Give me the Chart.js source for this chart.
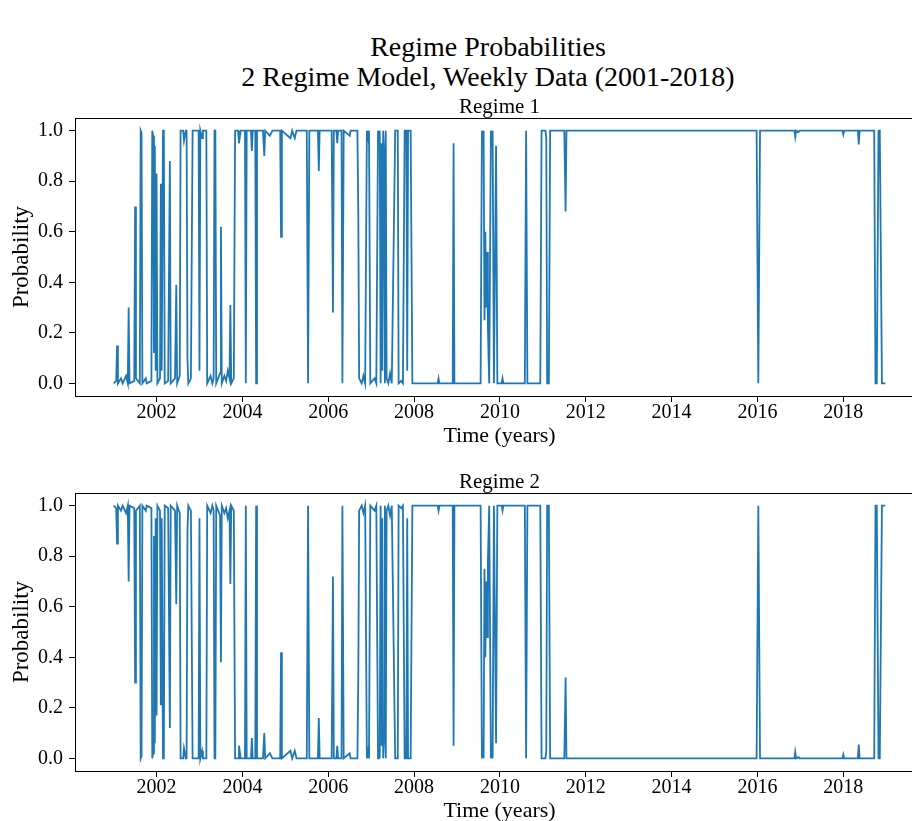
<!DOCTYPE html>
<html>
<head>
<meta charset="utf-8">
<script src="https://cdn.jsdelivr.net/npm/chart.js@4/dist/chart.umd.min.js"></script>
<style>
  html, body { margin:0; padding:0; background:#fff; width:912px; height:821px; overflow:hidden; }
  #wrap { position:relative; width:912px; height:821px; overflow:hidden; }
  .suptitle { position:absolute; left:0; top:32px; width:976px; text-align:center;
              font-family:"Liberation Serif","Times New Roman",serif; font-size:28px; line-height:30px; color:#000; }
  canvas { position:absolute; left:0; }
</style>
</head>
<body>
<div id="wrap">
  <div class="suptitle">Regime Probabilities<br>2 Regime Model, Weekly Data (2001-2018)</div>
  <canvas id="c1" width="930" height="362" style="top:90px"></canvas>
  <canvas id="c2" width="930" height="362" style="top:465px"></canvas>
</div>
<script>
// ---- data ----
const time = [
  2001.00, 2001.06, 2001.08, 2001.10, 2001.17, 2001.21, 2001.29, 2001.33, 2001.35, 2001.37,
  2001.48, 2001.50, 2001.52, 2001.61, 2001.63, 2001.65, 2001.67, 2001.75, 2001.77, 2001.88,
  2001.90, 2001.92, 2001.94, 2001.96, 2001.98, 2002.00, 2002.02, 2002.08, 2002.10, 2002.12,
  2002.15, 2002.17, 2002.19, 2002.27, 2002.31, 2002.33, 2002.43, 2002.46, 2002.48, 2002.54,
  2002.56, 2002.62, 2002.64, 2002.68, 2002.70, 2002.72, 2002.74, 2002.80, 2002.84, 2002.98,
  2003.00, 2003.02, 2003.06, 2003.08, 2003.16, 2003.18, 2003.26, 2003.30, 2003.33, 2003.35,
  2003.37, 2003.39, 2003.48, 2003.50, 2003.52, 2003.58, 2003.62, 2003.66, 2003.70, 2003.72,
  2003.74, 2003.80, 2003.83, 2003.90, 2003.92, 2003.96, 2004.06, 2004.08, 2004.10, 2004.20,
  2004.22, 2004.24, 2004.30, 2004.32, 2004.34, 2004.48, 2004.51, 2004.53, 2004.64, 2004.70,
  2004.88, 2004.90, 2004.92, 2005.12, 2005.16, 2005.22, 2005.26, 2005.50, 2005.53, 2005.56,
  2005.76, 2005.78, 2005.80, 2006.08, 2006.11, 2006.13, 2006.19, 2006.21, 2006.23, 2006.31,
  2006.33, 2006.36, 2006.50, 2006.52, 2006.68, 2006.70, 2006.72, 2006.78, 2006.82, 2006.86,
  2006.90, 2006.93, 2006.95, 2006.98, 2007.08, 2007.12, 2007.16, 2007.18, 2007.20, 2007.22,
  2007.24, 2007.26, 2007.28, 2007.30, 2007.32, 2007.34, 2007.36, 2007.40, 2007.44, 2007.48,
  2007.56, 2007.62, 2007.64, 2007.70, 2007.74, 2007.78, 2007.82, 2007.84, 2007.86, 2007.92,
  2007.96, 2008.55, 2008.57, 2008.59, 2008.90, 2008.92, 2008.94, 2009.55, 2009.58, 2009.60,
  2009.62, 2009.64, 2009.66, 2009.68, 2009.70, 2009.72, 2009.75, 2009.79, 2009.81, 2009.83,
  2009.86, 2009.91, 2009.94, 2010.04, 2010.06, 2010.08, 2010.58, 2010.61, 2010.64, 2010.94,
  2010.97, 2011.06, 2011.08, 2011.10, 2011.14, 2011.17, 2011.50, 2011.53, 2011.55, 2015.98,
  2016.02, 2016.06, 2016.86, 2016.88, 2016.90, 2016.96, 2016.98, 2017.98, 2018.00, 2018.02,
  2018.34, 2018.36, 2018.38, 2018.72, 2018.75, 2018.78, 2018.82, 2018.85, 2018.90, 2018.98
];
const regime1 = [
  0, 0.01, 0.15, 0, 0.02, 0, 0.03, 0, 0.30, 0,
  0.01, 0.70, 0.02, 0, 1, 0.99, 0, 0.02, 0, 0.01,
  1, 0.98, 0.12, 0.94, 0.05, 0.83, 0, 0.02, 0.79, 0.05,
  1, 1, 0, 0.01, 0.88, 0, 0.02, 0.39, 0, 0.03,
  1, 1, 0.96, 1, 1, 0.10, 0, 0.02, 1, 1,
  0.05, 1, 0.97, 1, 1, 0, 0.03, 0, 0.02, 1,
  1, 0, 0.04, 0.62, 0, 0.03, 0.01, 0.05, 0.02, 0.31,
  0, 0.02, 1, 1, 0.95, 1, 1, 0, 1, 1,
  0.92, 1, 1, 0, 1, 1, 0.90, 1, 0.98, 1,
  1, 0.58, 1, 0.97, 1, 0.97, 1, 1, 0, 1,
  1, 0.84, 1, 1, 0.28, 1, 1, 0.95, 1, 1,
  0, 1, 0.98, 1, 1, 0.68, 0.02, 0, 0.03, 0,
  1, 0.97, 1, 0, 0.02, 0, 1, 0.96, 1, 0,
  0.95, 0.05, 1, 0.92, 0, 1, 0.02, 0, 0.04, 0,
  1, 1, 0, 0.01, 0, 1, 1, 0.05, 1, 1,
  0, 0, 0.02, 0, 0, 0.95, 0, 0, 1, 0.97,
  1, 0.25, 0.60, 0.30, 0.52, 0.22, 0, 1, 0.97, 1,
  0, 0.94, 0, 0, 0.02, 0, 0, 1, 0, 0,
  1, 1, 0.97, 0, 0, 1, 1, 0.68, 1, 1,
  0, 1, 1, 0.975, 1, 0.995, 1, 1, 0.985, 1,
  1, 0.945, 1, 1, 0, 0, 1, 1, 0, 0
];
const regime2 = [
  1, 0.99, 0.85, 1, 0.98, 1, 0.97, 1, 0.70, 1,
  0.99, 0.30, 0.98, 1, 0, 0.01, 1, 0.98, 1, 0.99,
  0, 0.02, 0.88, 0.06, 0.95, 0.17, 1, 0.98, 0.21, 0.95,
  0, 0, 1, 0.99, 0.12, 1, 0.98, 0.61, 1, 0.97,
  0, 0, 0.04, 0, 0, 0.90, 1, 0.98, 0, 0,
  0.95, 0, 0.03, 0, 0, 1, 0.97, 1, 0.98, 0,
  0, 1, 0.96, 0.38, 1, 0.97, 0.99, 0.95, 0.98, 0.69,
  1, 0.98, 0, 0, 0.05, 0, 0, 1, 0, 0,
  0.08, 0, 0, 1, 0, 0, 0.10, 0, 0.02, 0,
  0, 0.42, 0, 0.03, 0, 0.03, 0, 0, 1, 0,
  0, 0.16, 0, 0, 0.72, 0, 0, 0.05, 0, 0,
  1, 0, 0.02, 0, 0, 0.32, 0.98, 1, 0.97, 1,
  0, 0.03, 0, 1, 0.98, 1, 0, 0.04, 0, 1,
  0.05, 0.95, 0, 0.08, 1, 0, 0.98, 1, 0.96, 1,
  0, 0, 1, 0.99, 1, 0, 0, 0.95, 0, 0,
  1, 1, 0.98, 1, 1, 0.05, 1, 1, 0, 0.03,
  0, 0.75, 0.40, 0.70, 0.48, 0.78, 1, 0, 0.03, 0,
  1, 0.06, 1, 1, 0.98, 1, 1, 0, 1, 1,
  0, 0, 0.03, 1, 1, 0, 0, 0.32, 0, 0,
  1, 0, 0, 0.025, 0, 0.005, 0, 0, 0.015, 0,
  0, 0.055, 0, 0, 1, 1, 0, 0, 1, 1
];
const xTicks = [2002, 2004, 2006, 2008, 2010, 2012, 2014, 2016, 2018];
const yTicks = [0.0, 0.2, 0.4, 0.6, 0.8, 1.0];
const titles = ['Regime 1', 'Regime 2'];

// ---- drawing ----
const FONT = "'Liberation Serif', 'Times New Roman', serif";
const boxPlugin = {
  id: 'box',
  afterDraw(chart) {
    const a = chart.chartArea, ctx = chart.ctx;
    ctx.save();
    ctx.strokeStyle = '#000';
    ctx.lineWidth = 1;
    ctx.strokeRect(Math.round(a.left) + 0.5, Math.round(a.top) + 0.5,
                   Math.round(a.right - a.left), Math.round(a.bottom - a.top));
    ctx.restore();
  }
};

function makeChart(id, title, values) {
  const pts = time.map((t, i) => ({ x: t, y: values[i] }));
  return new Chart(document.getElementById(id), {
    type: 'line',
    data: { datasets: [{ data: pts, borderColor: '#1f77b4', borderWidth: 1.8,
      pointRadius: 0, tension: 0, fill: false }] },
    options: {
      responsive: false, animation: false, devicePixelRatio: 1,
      layout: { padding: { left: 0, right: 6, top: 0, bottom: 4 } },
      plugins: {
        legend: { display: false }, tooltip: { enabled: false },
        title: { display: true, text: title, color: '#000', fullSize: false,
          font: { family: FONT, size: 21, weight: 'normal', lineHeight: 1.0 },
          padding: { top: 7, bottom: 0 } }
      },
      scales: {
        x: {
          type: 'linear', min: 2000.10, max: 2019.88,
          afterBuildTicks: s => { s.ticks = xTicks.map(v => ({ value: v })); },
          afterFit: s => { s.height = 52; },
          ticks: { color: '#000', padding: 0, autoSkip: false, maxRotation: 0,
            font: { family: FONT, size: 20, lineHeight: 1.1 },
            callback: v => String(v) },
          grid: { display: true, drawOnChartArea: false, drawTicks: true, tickLength: 6,
            color: '#000', tickColor: '#000' },
          border: { display: false },
          title: { display: true, text: 'Time (years)', color: '#000',
            font: { family: FONT, size: 22, lineHeight: 1.1 }, padding: { top: 1, bottom: 0 } }
        },
        y: {
          type: 'linear', min: -0.05, max: 1.05,
          afterBuildTicks: s => { s.ticks = yTicks.map(v => ({ value: v })); },
          afterFit: s => { s.width = 75; },
          ticks: { color: '#000', padding: 6,
            font: { family: FONT, size: 20, lineHeight: 1.1 },
            callback: v => Number(v).toFixed(1) },
          grid: { display: true, drawOnChartArea: false, drawTicks: true, tickLength: 6,
            color: '#000', tickColor: '#000' },
          border: { display: false },
          title: { display: true, text: 'Probability', color: '#000',
            font: { family: FONT, size: 23, lineHeight: 1.1 }, padding: { top: 9, bottom: 0 } }
        }
      }
    },
    plugins: [boxPlugin]
  });
}
makeChart('c1', titles[0], regime1);
makeChart('c2', titles[1], regime2);
</script>
</body>
</html>
